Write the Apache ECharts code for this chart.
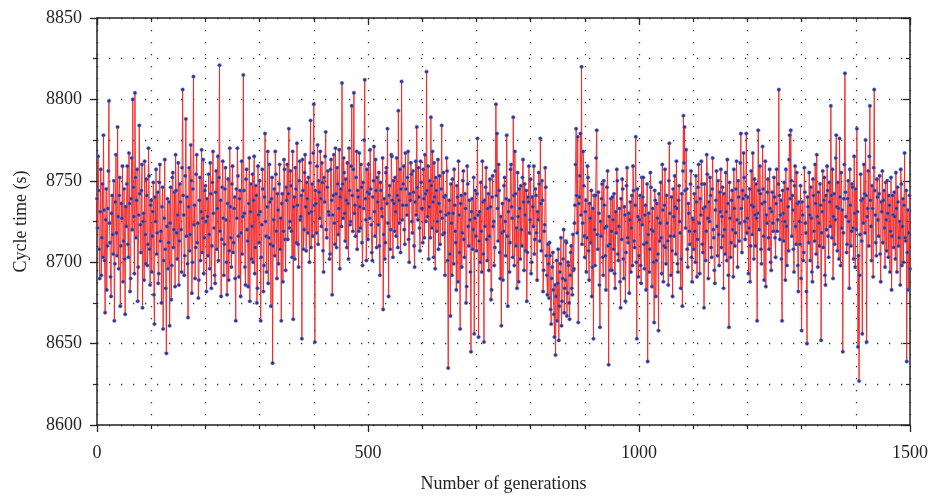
<!DOCTYPE html>
<html>
<head>
<meta charset="utf-8">
<script src="https://cdn.jsdelivr.net/npm/echarts@6/dist/echarts.min.js"></script>
<style>
html,body{margin:0;padding:0;background:#fff;}
#main{width:932px;height:496px;}
</style>
</head>
<body>
<div id="main"></div>
<script>
// cycle time of the best individual, one reading per generation (0..1500)
var genStep = 1;
var cycleTime = [
8739,8721,8765,8744,8708,8690,8731,8757,8692,8715,8748,8703,8778,8732,8701,8669,8726,8745,8683,8710,8733,8756,8799,8724,8712,8691,8679,8730,8741,8717,8705,8750,8664,8699,8737,8766,8718,8704,8783,8728,8696,8741,8752,8673,8710,8736,8727,8759,8688,8713,
8745,8702,8668,8734,8722,8748,8759,8711,8703,8767,8736,8682,8690,8739,8764,8720,8800,8746,8728,8693,8804,8752,8715,8738,8757,8676,8697,8729,8784,8742,8723,8706,8744,8760,8672,8725,8730,8689,8762,8717,8699,8751,8741,8698,8711,8770,8753,8708,8686,8735,
8738,8694,8716,8731,8749,8680,8662,8740,8725,8757,8705,8718,8743,8687,8693,8749,8760,8713,8719,8675,8734,8746,8659,8701,8727,8763,8708,8684,8644,8722,8739,8696,8712,8737,8661,8724,8746,8677,8698,8752,8755,8709,8720,8743,8685,8766,8744,8718,8702,8729,
8761,8686,8713,8748,8737,8720,8694,8758,8806,8741,8729,8692,8704,8753,8788,8716,8740,8699,8666,8734,8758,8707,8717,8772,8750,8681,8700,8745,8814,8723,8735,8690,8709,8754,8766,8712,8724,8678,8689,8738,8752,8701,8731,8769,8706,8727,8763,8693,8715,8744,
8747,8725,8682,8739,8728,8704,8754,8717,8696,8761,8742,8684,8710,8749,8768,8730,8721,8692,8687,8743,8756,8708,8733,8765,8701,8752,8821,8719,8738,8679,8714,8746,8762,8727,8692,8711,8745,8758,8726,8700,8680,8736,8751,8689,8707,8770,8734,8715,8697,8748,
8759,8706,8712,8733,8740,8690,8664,8745,8727,8770,8753,8716,8691,8739,8744,8679,8718,8762,8705,8728,8815,8744,8730,8697,8686,8751,8757,8720,8713,8685,8736,8764,8676,8731,8748,8702,8722,8754,8700,8738,8765,8693,8709,8747,8741,8675,8684,8759,8729,8712,
8750,8731,8664,8703,8723,8757,8745,8682,8698,8740,8779,8725,8716,8694,8734,8768,8687,8715,8760,8737,8711,8673,8739,8752,8638,8710,8726,8745,8704,8768,8754,8719,8690,8742,8732,8699,8748,8760,8708,8727,8664,8736,8742,8688,8719,8763,8757,8714,8695,8746,
8738,8760,8714,8742,8782,8721,8725,8756,8747,8719,8703,8768,8665,8734,8740,8702,8758,8745,8712,8773,8735,8711,8697,8750,8762,8726,8728,8741,8653,8763,8744,8708,8720,8755,8766,8734,8707,8749,8739,8718,8752,8730,8700,8761,8787,8709,8731,8748,8716,8767,
8797,8735,8651,8744,8736,8718,8759,8772,8711,8750,8743,8727,8768,8739,8722,8761,8749,8707,8694,8752,8737,8765,8780,8720,8715,8746,8756,8731,8729,8702,8705,8757,8763,8738,8680,8729,8741,8766,8724,8711,8770,8742,8709,8758,8748,8717,8733,8769,8696,8740,
8745,8722,8810,8748,8727,8764,8755,8730,8713,8751,8738,8709,8761,8736,8702,8770,8744,8723,8725,8759,8796,8741,8719,8757,8804,8730,8735,8716,8752,8768,8708,8744,8740,8719,8767,8734,8721,8760,8746,8712,8698,8749,8733,8775,8812,8739,8726,8701,8757,8743,
8714,8760,8742,8727,8769,8745,8723,8706,8701,8740,8750,8771,8731,8716,8763,8744,8709,8752,8737,8723,8755,8710,8692,8749,8744,8733,8728,8764,8671,8717,8739,8702,8712,8755,8758,8736,8782,8724,8679,8741,8747,8708,8720,8766,8765,8738,8703,8750,8736,8719,
8752,8731,8716,8764,8741,8709,8793,8738,8724,8757,8706,8745,8811,8726,8735,8748,8759,8720,8711,8767,8745,8735,8729,8752,8768,8714,8700,8742,8738,8761,8754,8725,8718,8756,8743,8710,8697,8737,8762,8729,8783,8746,8726,8758,8740,8721,8707,8762,8749,8733,
8733,8712,8757,8739,8715,8766,8742,8725,8817,8744,8728,8759,8702,8734,8750,8715,8789,8747,8721,8768,8737,8703,8761,8740,8696,8752,8744,8719,8725,8763,8708,8736,8753,8711,8731,8745,8784,8727,8717,8755,8740,8718,8692,8741,8729,8764,8756,8701,8635,8730,
8738,8705,8667,8748,8724,8692,8751,8730,8699,8757,8735,8719,8712,8683,8747,8740,8688,8762,8729,8706,8659,8736,8741,8697,8718,8750,8756,8714,8703,8742,8733,8675,8685,8759,8748,8722,8710,8738,8726,8694,8645,8731,8739,8708,8720,8752,8656,8727,8744,8716,
8707,8742,8776,8729,8654,8713,8731,8700,8749,8719,8694,8762,8737,8705,8651,8738,8722,8746,8758,8714,8701,8733,8742,8695,8716,8751,8734,8677,8683,8740,8753,8722,8725,8698,8709,8756,8797,8741,8779,8733,8713,8760,8744,8706,8690,8728,8661,8718,8736,8689,
8719,8747,8752,8725,8704,8739,8778,8716,8673,8731,8738,8694,8712,8757,8760,8734,8727,8703,8789,8741,8698,8768,8742,8710,8721,8684,8755,8728,8688,8745,8733,8702,8747,8720,8710,8752,8763,8737,8695,8748,8729,8707,8744,8676,8706,8740,8737,8759,8718,8726,
8751,8693,8700,8740,8734,8722,8759,8705,8714,8745,8741,8718,8689,8731,8726,8755,8748,8713,8776,8736,8707,8750,8738,8682,8695,8719,8723,8758,8746,8704,8692,8680,8711,8699,8678,8712,8704,8671,8662,8690,8697,8706,8683,8668,8654,8686,8643,8679,8701,8664,
8687,8708,8652,8673,8694,8699,8715,8661,8676,8690,8702,8720,8669,8684,8689,8713,8712,8667,8681,8700,8698,8675,8665,8692,8706,8710,8684,8680,8717,8695,8696,8724,8735,8760,8782,8741,8718,8777,8663,8736,8740,8753,8779,8729,8820,8711,8724,8768,8747,8716,
8703,8731,8738,8694,8715,8759,8752,8707,8689,8736,8727,8712,8744,8679,8697,8733,8653,8741,8720,8698,8741,8764,8781,8717,8708,8743,8730,8686,8660,8725,8716,8739,8748,8703,8692,8750,8735,8721,8704,8683,8722,8746,8756,8710,8637,8728,8711,8695,8739,8719,
8695,8740,8726,8708,8742,8693,8684,8731,8718,8757,8750,8705,8701,8722,8733,8688,8672,8739,8714,8751,8745,8702,8690,8734,8729,8676,8706,8747,8758,8715,8712,8730,8681,8726,8737,8694,8721,8741,8698,8759,8744,8713,8709,8735,8777,8700,8653,8745,8728,8691,
8704,8726,8741,8698,8687,8752,8723,8740,8752,8711,8696,8729,8735,8683,8712,8748,8639,8717,8730,8694,8708,8755,8746,8720,8685,8733,8719,8700,8663,8744,8738,8679,8701,8736,8727,8705,8658,8742,8713,8724,8749,8715,8693,8760,8732,8688,8710,8735,8757,8709,
8699,8741,8724,8713,8686,8750,8773,8730,8716,8692,8740,8707,8679,8745,8728,8716,8753,8734,8705,8762,8733,8699,8694,8738,8747,8725,8718,8684,8702,8742,8673,8756,8790,8761,8783,8744,8721,8769,8745,8708,8697,8736,8730,8719,8711,8748,8756,8703,8688,8727,
8726,8708,8742,8719,8700,8753,8737,8691,8714,8746,8760,8724,8693,8739,8729,8762,8748,8711,8706,8733,8672,8748,8734,8701,8719,8766,8754,8727,8690,8737,8725,8752,8741,8709,8703,8745,8764,8720,8715,8695,8687,8732,8738,8756,8722,8704,8750,8717,8698,8743,
8731,8757,8709,8728,8746,8716,8684,8742,8720,8705,8755,8731,8701,8763,8736,8692,8660,8749,8727,8703,8712,8738,8744,8720,8691,8757,8733,8710,8718,8745,8762,8726,8697,8750,8740,8713,8724,8761,8779,8733,8706,8744,8739,8767,8752,8725,8714,8741,8779,8718,
8727,8740,8693,8721,8745,8688,8710,8756,8735,8717,8767,8734,8702,8751,8729,8710,8748,8727,8664,8730,8781,8744,8720,8759,8742,8708,8699,8736,8771,8745,8716,8689,8737,8762,8685,8729,8724,8743,8751,8715,8708,8757,8733,8700,8695,8731,8743,8724,8719,8752,
8740,8715,8703,8736,8757,8719,8726,8748,8806,8741,8714,8729,8738,8702,8664,8744,8730,8713,8749,8725,8689,8757,8722,8698,8745,8734,8707,8763,8778,8739,8781,8750,8716,8741,8732,8708,8694,8747,8759,8722,8711,8755,8736,8698,8682,8737,8725,8711,8747,8690,
8658,8737,8729,8701,8706,8758,8743,8724,8718,8682,8650,8740,8734,8712,8755,8729,8701,8746,8727,8694,8688,8751,8741,8719,8713,8760,8736,8705,8766,8728,8697,8743,8724,8710,8748,8735,8652,8718,8731,8756,8709,8738,8752,8692,8686,8741,8720,8759,8744,8716,
8703,8749,8737,8722,8796,8741,8715,8757,8690,8728,8742,8711,8726,8764,8778,8734,8707,8749,8733,8702,8776,8740,8698,8755,8721,8732,8645,8718,8739,8760,8816,8743,8728,8706,8711,8739,8750,8725,8684,8757,8735,8710,8719,8748,8746,8721,8702,8765,8730,8697,
8745,8720,8782,8731,8648,8704,8627,8692,8717,8754,8738,8713,8656,8739,8724,8760,8742,8718,8775,8741,8651,8728,8733,8756,8710,8765,8796,8738,8722,8701,8747,8733,8691,8758,8806,8744,8729,8712,8704,8751,8740,8726,8716,8742,8753,8705,8688,8737,8731,8756,
8712,8738,8744,8721,8697,8749,8726,8707,8750,8730,8703,8741,8735,8694,8719,8752,8683,8716,8741,8729,8709,8743,8728,8702,8755,8733,8694,8746,8737,8710,8715,8725,8686,8757,8748,8698,8722,8739,8700,8735,8767,8715,8713,8744,8639,8706,8732,8683,8718,8741,
8696
];

var xTicks = { min: 0, max: 1500, interval: 500, minorSplit: 5 };
var yTicks = { min: 8600, max: 8850, interval: 50, minorSplit: 2 };

var seriesData = cycleTime.map(function (v, i) { return [i * genStep, v]; });

var chart = echarts.init(document.getElementById('main'), null, { renderer: 'canvas' });

var serif = 'Liberation Serif';
var dotted = { color: '#333', width: 1.3, type: [1.3, 10.7] };
var axisLine = { show: true, onZero: false, lineStyle: { color: '#222', width: 1.5 } };
var plain = function (v) { return String(v); };

var option = {
    animation: false,
    backgroundColor: '#fff',
    grid: { left: 97, right: 22, top: 18, bottom: 71, containLabel: false, outerBoundsMode: 'none' },
    xAxis: [
        {
            type: 'value',
            position: 'bottom',
            min: xTicks.min, max: xTicks.max, interval: xTicks.interval,
            name: 'Number of generations',
            nameLocation: 'middle',
            nameGap: 50,
            nameTextStyle: { fontFamily: serif, fontSize: 18, color: '#231f20' },
            axisLine: axisLine,
            axisTick: { show: true, length: 7, lineStyle: { color: '#222', width: 1.3 } },
            minorTick: { show: true, splitNumber: xTicks.minorSplit, length: 4, lineStyle: { color: '#222', width: 1.2 } },
            axisLabel: { fontFamily: serif, fontSize: 18, color: '#231f20', margin: 19, formatter: plain },
            splitLine: { show: true, lineStyle: dotted },
            minorSplitLine: { show: true, lineStyle: dotted }
        },
        {
            type: 'value',
            position: 'top',
            min: xTicks.min, max: xTicks.max, interval: xTicks.interval,
            axisLine: axisLine,
            axisTick: { show: true, inside: true, length: 7, lineStyle: { color: '#222', width: 1.3 } },
            minorTick: { show: true, splitNumber: xTicks.minorSplit, length: 4, lineStyle: { color: '#222', width: 1.2 } },
            axisLabel: { show: false },
            splitLine: { show: false }
        }
    ],
    yAxis: [
        {
            type: 'value',
            position: 'left',
            min: yTicks.min, max: yTicks.max, interval: yTicks.interval,
            name: 'Cycle time (s)',
            nameLocation: 'middle',
            nameGap: 67,
            nameTextStyle: { fontFamily: serif, fontSize: 18, color: '#231f20' },
            axisLine: axisLine,
            axisTick: { show: true, length: 7, lineStyle: { color: '#222', width: 1.3 } },
            minorTick: { show: true, splitNumber: yTicks.minorSplit, length: 4, lineStyle: { color: '#222', width: 1.2 } },
            axisLabel: { fontFamily: serif, fontSize: 18, color: '#231f20', margin: 15, formatter: plain },
            splitLine: { show: true, lineStyle: dotted },
            minorSplitLine: { show: true, lineStyle: dotted }
        },
        {
            type: 'value',
            position: 'right',
            min: yTicks.min, max: yTicks.max, interval: yTicks.interval,
            axisLine: axisLine,
            axisTick: { show: true, inside: true, length: 7, lineStyle: { color: '#222', width: 1.3 } },
            minorTick: { show: true, splitNumber: yTicks.minorSplit, length: 4, lineStyle: { color: '#222', width: 1.2 } },
            axisLabel: { show: false },
            splitLine: { show: false }
        }
    ],
    series: [
        {
            name: 'Cycle time',
            type: 'line',
            xAxisIndex: 0,
            yAxisIndex: 0,
            data: seriesData,
            showSymbol: true,
            showAllSymbol: true,
            symbol: 'circle',
            symbolSize: 3.6,
            sampling: null,
            lineStyle: { color: '#f42222', width: 0.9 },
            itemStyle: { color: '#2d3593', borderColor: '#6e76c6', borderWidth: 0.5 },
            emphasis: { disabled: true }
        }
    ]
};
chart.setOption(option);
</script>
</body>
</html>
